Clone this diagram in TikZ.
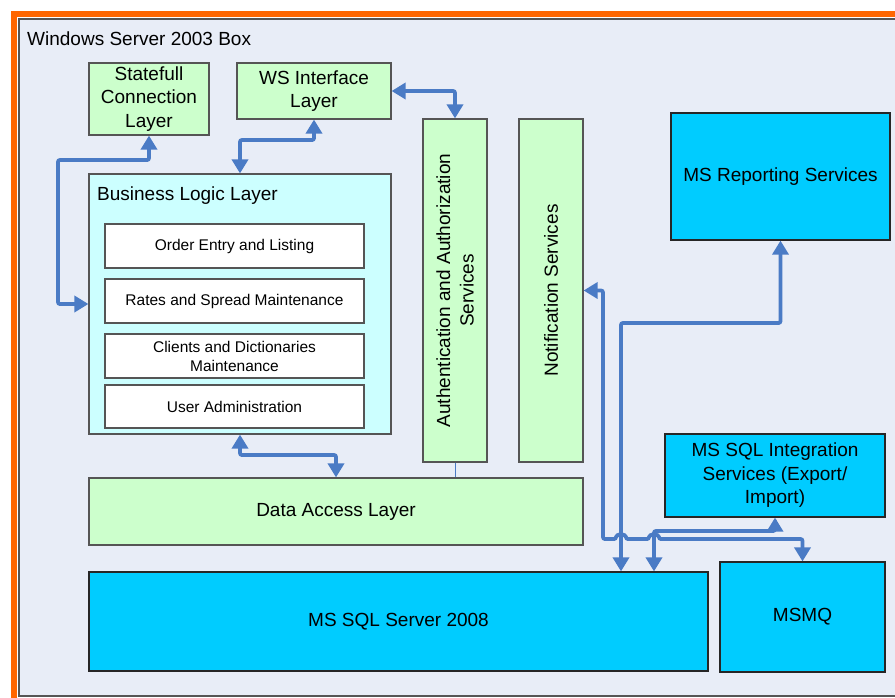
\documentclass[tikz,border=0pt]{standalone}
\usepackage{fontspec}
\setmainfont{Liberation Sans}
\usetikzlibrary{arrows.meta}
\definecolor{bgc}{HTML}{E8EDF7}
\definecolor{greenc}{HTML}{CCFFCC}
\definecolor{cyanc}{HTML}{CCFFFF}
\definecolor{bluec}{HTML}{00CCFF}
\definecolor{framec}{HTML}{FF6600}
\definecolor{arrowc}{HTML}{4A7BC5}
\definecolor{bordc}{HTML}{555555}
\tikzset{
  big/.style={font=\fontsize{19}{23.5}\selectfont},
  small/.style={font=\fontsize{15.5}{19}\selectfont},
  gbox/.style={draw=bordc, fill=greenc, line width=1.2pt, inner sep=0pt, align=center, big},
  bbox/.style={draw=black!85, fill=bluec, line width=1.2pt, inner sep=0pt, align=center, big},
  wbox/.style={draw=bordc, fill=white, line width=1.1pt, inner sep=0pt, align=center, small},
  tipx/.tip={Triangle[width=16pt,length=14pt]},
  conn/.style={draw=arrowc, line width=3.8pt, rounded corners=2pt, tipx-tipx},
}
\begin{document}
\begin{tikzpicture}[x=1pt,y=-1pt]
\useasboundingbox (0,0) rectangle (895,697);
\clip (0,0) rectangle (895,697);
\fill[white] (0,0) rectangle (895,697);
\draw[framec, line width=6pt] (14,14) rectangle (910,712);
\draw[draw=bordc, fill=bgc, line width=1.1pt] (19,19) rectangle (910,696);
\node[big, anchor=base west, inner sep=0pt] (title) at (27,45) {Windows Server 2003 Box};

% boxes
\node[gbox, minimum width=120pt, minimum height=72pt] (stf) at (149,99) {Statefull\\Connection\\Layer};
\node[gbox, minimum width=154pt, minimum height=56pt] (ws) at (314,91) {WS Interface\\Layer};
\node[gbox, rotate=90, minimum width=343pt, minimum height=64pt] (auth) at (455,290.5) {Authentication and Authorization\\Services};
\node[gbox, rotate=90, minimum width=343pt, minimum height=64pt] (notif) at (551,290.5) {Notification Services};
\node[draw=bordc, fill=cyanc, line width=1.2pt, minimum width=302pt, minimum height=260pt] (bll) at (240,304) {};
\node[big, anchor=base west, inner sep=0pt] (blltxt) at (97,200) {Business Logic Layer};
\node[wbox, minimum width=259pt, minimum height=44pt] (oe) at (234.5,246) {Order Entry and Listing};
\node[wbox, minimum width=259pt, minimum height=44pt] (rs) at (234.5,301) {Rates and Spread Maintenance};
\node[wbox, minimum width=259pt, minimum height=44pt] (cd) at (234.5,356) {Clients and Dictionaries\\Maintenance};
\node[wbox, minimum width=259pt, minimum height=43pt] (ua) at (234.5,406.5) {User Administration};
\node[gbox, minimum width=494pt, minimum height=67pt] (dal) at (336,511.5) {Data Access Layer};
\node[bbox, minimum width=619pt, minimum height=99pt] (sql) at (398.5,621.5) {MS SQL Server 2008};
\node[bbox, minimum width=165pt, minimum height=110pt] (msmq) at (802.5,617) {MSMQ};
\node[bbox, minimum width=220pt, minimum height=83pt] (int) at (775,475.5) {MS SQL Integration\\Services (Export/\\Import)};
\node[bbox, minimum width=219pt, minimum height=127pt] (rep) at (780.5,176.5) {MS Reporting Services};

% connectors
\draw[conn] (stf.south) -- (149,160) -- (58,160) |- (bll.west);
\draw[conn] (ws.south) -- (314,140) -| (bll.north);
\draw[conn] (ws.east) -| (auth.east);
\draw[conn] (bll.south) -- (240,455) -| (dal.north);
\draw[arrowc, line width=0.9pt] (auth.west) -- (auth.west |- dal.north);
\draw[conn] (rep.south) -- (780.5,323) -- (621,323) -- (621,0 |- sql.north);
\draw[conn] (int.south) -- (775,531) -- (654,531) -- (654,0 |- sql.north);
\draw[conn] (notif.south) -- (603,290.5) -- (603,539) -- (616,539)
  arc[start angle=180,end angle=0,radius=5pt] -- (649,539)
  arc[start angle=180,end angle=0,radius=5pt] -| (msmq.north);
\end{tikzpicture}
\end{document}
